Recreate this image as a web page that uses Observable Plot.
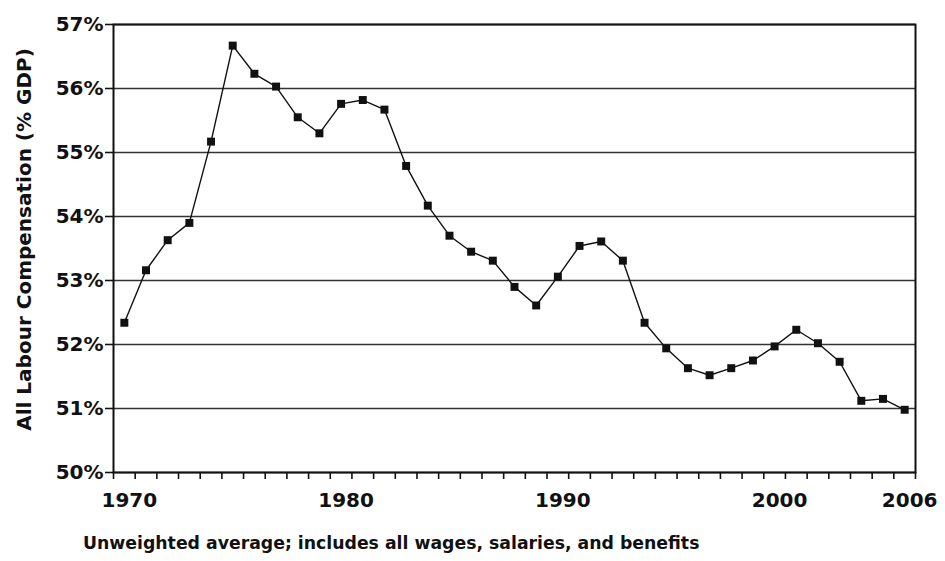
<!DOCTYPE html>
<html>
<head>
<meta charset="utf-8">
<script src="https://cdn.jsdelivr.net/npm/d3@7"></script>
<script src="https://cdn.jsdelivr.net/npm/@observablehq/plot@0.6"></script>
<style>
  html, body { margin: 0; padding: 0; background: #fff; }
  #chart svg { display: block; }
  #caption {
    font-family: "DejaVu Sans", sans-serif;
    font-weight: bold;
    font-size: 17.3px;
    line-height: 20px;
    color: #111;
    margin: 13px 0 0 83px;
    white-space: nowrap;
  }
</style>
</head>
<body>
<div id="chart"></div>
<div id="caption">Unweighted average; includes all wages, salaries, and benefits</div>
<script>
const years = d3.range(1970, 2007);
const values = [
  52.34, 53.16, 53.63, 53.90, 55.17, 56.67, 56.23, 56.03, 55.55, 55.30,
  55.76, 55.82, 55.67, 54.79, 54.17, 53.70, 53.45, 53.31, 52.90, 52.61,
  53.06, 53.54, 53.61, 53.31, 52.34, 51.94, 51.63, 51.52, 51.63, 51.75,
  51.97, 52.23, 52.02, 51.73, 51.12, 51.15, 50.98
];
const yTicks = [50, 51, 52, 53, 54, 55, 56, 57];
const xLabels = [1970, 1980, 1990, 2000, 2006];
const yTitle = "All Labour Compensation (% GDP)";

const data = years.map((year, i) => ({year, value: values[i]}));
const yearEdges = years.map(y => y - 0.5).concat(years[years.length - 1] + 0.5);

const font = "DejaVu Sans, sans-serif";

const chart = Plot.plot({
  width: 945,
  height: 520,
  marginTop: 24,
  marginBottom: 48,
  marginLeft: 113,
  marginRight: 30,
  style: {fontFamily: font, color: "#111", background: "#fff"},
  x: {domain: [years[0] - 0.5, years[years.length - 1] + 0.5], axis: null},
  y: {domain: [yTicks[0], yTicks[yTicks.length - 1]], axis: null},
  marks: [
    Plot.ruleY(yTicks, {stroke: "#333", strokeWidth: 1.6}),
    Plot.frame({stroke: "#111", strokeWidth: 2}),
    Plot.axisY({
      ticks: yTicks, tickFormat: d => d + "%", tickSize: 8, tickPadding: 2,
      fontSize: 20, fontWeight: "bold", stroke: "#111", strokeWidth: 1.6, label: null
    }),
    Plot.axisX({
      ticks: yearEdges, tickFormat: () => "", tickSize: 7,
      stroke: "#111", strokeWidth: 1.6, label: null
    }),
    Plot.axisX({
      ticks: xLabels, tickFormat: d => String(d), tickSize: 0, tickPadding: 20,
      fontSize: 20, fontWeight: "bold", dx: 5, label: null
    }),
    Plot.text([yTitle], {
      frameAnchor: "left", dx: -89, dy: -9, rotate: -90, text: d => d,
      fontSize: 20, fontWeight: "bold", textAnchor: "middle", lineAnchor: "middle", fill: "#111"
    }),
    Plot.line(data, {x: "year", y: "value", stroke: "#111", strokeWidth: 1.4}),
    Plot.dot(data, {x: "year", y: "value", symbol: "square", r: 4.5, fill: "#111", stroke: "none"})
  ]
});
document.getElementById("chart").append(chart);
</script>
</body>
</html>
